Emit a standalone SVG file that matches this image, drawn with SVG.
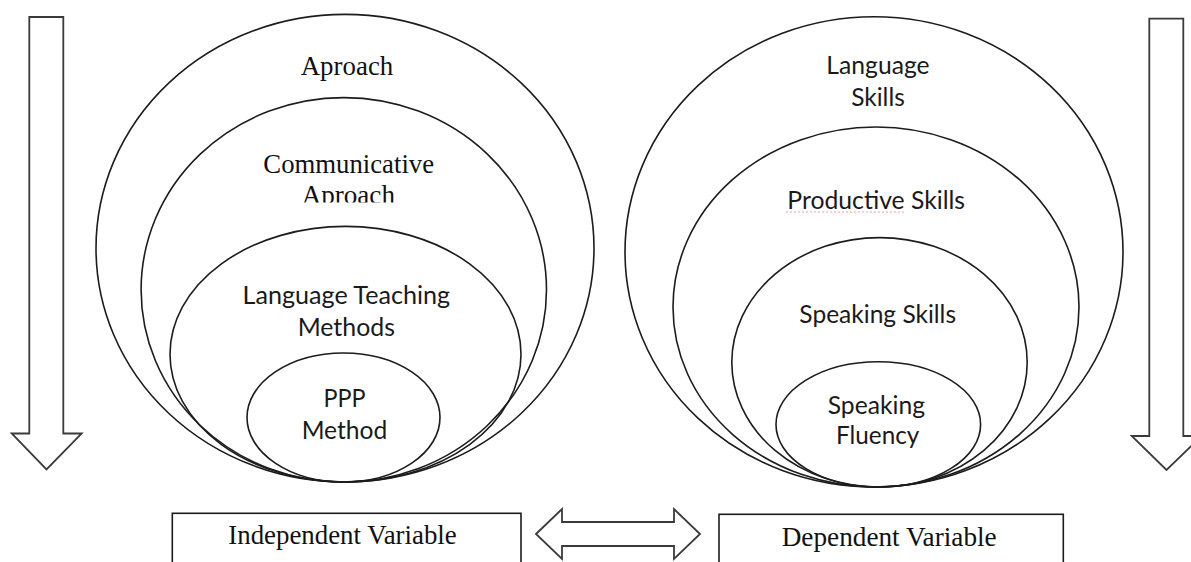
<svg xmlns="http://www.w3.org/2000/svg" width="1191" height="562" viewBox="0 0 1191 562">
<style>
.sh{fill:none;stroke:#1c1c1c;stroke-width:1.6}
.ar{fill:#fff;stroke:#3a3a3a;stroke-width:1.8;stroke-linejoin:miter}
.sf{font-family:"Liberation Serif","Times New Roman",serif;font-size:26.5px;fill:#111;text-anchor:middle}
.ss{font-family:Lato,"Open Sans","Liberation Sans",sans-serif;font-size:25px;fill:#1a1a1a;text-anchor:middle}
</style>
<defs>
<clipPath id="clipAp"><rect x="280" y="170" width="140" height="32.5"/></clipPath>
</defs>
<rect width="1191" height="562" fill="#fff"/>
<g id="connectors">
<path class="ar" d="M29.3,17 L63.3,17 L63.3,433.5 L81.7,433.5 L46.5,469.5 L11.7,433.5 L29.3,433.5 Z"/>
<path class="ar" d="M1149.3,18.6 L1183.3,18.6 L1183.3,436 L1201.7,436 L1166.5,470 L1131.7,436 L1149.3,436 Z"/>
<path class="ar" d="M536,534 L562,509 L562,522 L674,522 L674,509 L700,534 L674,559 L674,546 L562,546 L562,559 Z"/>
</g>
<g id="approach">
<ellipse class="sh" cx="345" cy="248.2" rx="249" ry="233.8"/>
<text class="sf" x="347" y="74.5" textLength="92.6" lengthAdjust="spacingAndGlyphs">Aproach</text>
</g>
<g id="communicative-approach">
<ellipse class="sh" cx="343.8" cy="289.8" rx="202.7" ry="192.2"/>
<text class="sf" x="348.7" y="173.3" textLength="170.7" lengthAdjust="spacingAndGlyphs">Communicative</text>
<text class="sf" x="348.3" y="203.5" textLength="93.3" lengthAdjust="spacingAndGlyphs" clip-path="url(#clipAp)">Aproach</text>
</g>
<g id="language-teaching-methods">
<ellipse class="sh" cx="345.5" cy="354.2" rx="175.5" ry="127.8"/>
<text class="ss" x="346.3" y="304" textLength="207.6" lengthAdjust="spacingAndGlyphs">Language Teaching</text>
<text class="ss" x="346.3" y="336" textLength="97.3" lengthAdjust="spacingAndGlyphs">Methods</text>
</g>
<g id="ppp-method">
<ellipse class="sh" cx="343.5" cy="417.5" rx="96.5" ry="64.5"/>
<text class="ss" x="344.5" y="406.5" textLength="42" lengthAdjust="spacingAndGlyphs">PPP</text>
<text class="ss" x="344.5" y="439" textLength="85.7" lengthAdjust="spacingAndGlyphs">Method</text>
</g>
<g id="language-skills">
<ellipse class="sh" cx="874" cy="251.9" rx="249" ry="235.1"/>
<text class="ss" x="878" y="73.5" textLength="103.3" lengthAdjust="spacingAndGlyphs">Language</text>
<text class="ss" x="878" y="105.7" textLength="53.6" lengthAdjust="spacingAndGlyphs">Skills</text>
</g>
<g id="productive-skills">
<ellipse class="sh" cx="876" cy="307" rx="203" ry="180"/>
<text class="ss" x="876.2" y="209.3" textLength="177.7" lengthAdjust="spacingAndGlyphs">Productive Skills</text>
<line x1="786" y1="212" x2="906" y2="212" stroke="#f2a0a0" stroke-width="1" stroke-dasharray="2 2"/>
</g>
<g id="speaking-skills">
<ellipse class="sh" cx="879.5" cy="362.3" rx="147.7" ry="124.7"/>
<text class="ss" x="877.7" y="322.7" textLength="156.7" lengthAdjust="spacingAndGlyphs">Speaking Skills</text>
</g>
<g id="speaking-fluency">
<ellipse class="sh" cx="878.3" cy="424.4" rx="102.3" ry="62.6"/>
<text class="ss" x="876.4" y="413.5" textLength="97.3" lengthAdjust="spacingAndGlyphs">Speaking</text>
<text class="ss" x="877.7" y="444" textLength="83.3" lengthAdjust="spacingAndGlyphs">Fluency</text>
</g>
<g id="independent-variable">
<rect class="sh" x="172.3" y="513.3" width="348.7" height="60"/>
<text class="sf" x="342.5" y="544.3" textLength="228.4" lengthAdjust="spacingAndGlyphs">Independent Variable</text>
</g>
<g id="dependent-variable">
<rect class="sh" x="719" y="514.3" width="344.3" height="60"/>
<text class="sf" x="889.2" y="545.7" textLength="215" lengthAdjust="spacingAndGlyphs">Dependent Variable</text>
</g>
</svg>
